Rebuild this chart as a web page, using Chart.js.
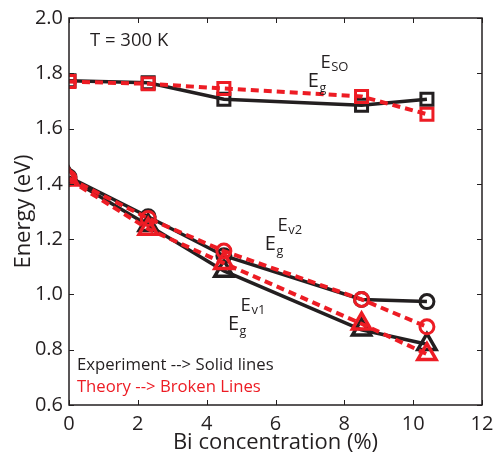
<!DOCTYPE html>
<html>
<head>
<meta charset="utf-8">
<script src="https://cdn.jsdelivr.net/npm/chart.js@4"></script>
<style>
html,body{margin:0;padding:0;background:#fff;}
#wrap{width:503px;height:463px;position:relative;}
</style>
</head>
<body>
<div id="wrap"><canvas id="c" width="503" height="463"></canvas></div>
<script>
// Data
const biConc = [0, 2.3, 4.5, 8.5, 10.4];
const expSO = [1.773, 1.766, 1.706, 1.684, 1.706];
const thSO  = [1.770, 1.762, 1.745, 1.716, 1.652];
const expV2 = [1.425, 1.281, 1.140, 0.982, 0.974];
const thV2  = [1.420, 1.275, 1.157, 0.982, 0.883];
const expV1 = [1.420, 1.250, 1.085, 0.872, 0.820];
const thV1  = [1.415, 1.237, 1.113, 0.894, 0.784];
const xTicks = [0, 2, 4, 6, 8, 10, 12];
const yTicks = [0.6, 0.8, 1.0, 1.2, 1.4, 1.6, 1.8, 2.0];

const BLACK = '#231f20';
const RED = '#ed1c24';
const FONT = "'Open Sans', 'Noto Sans', sans-serif";

function pts(ys){ return biConc.map((x,i)=>({x:x, y:ys[i]})); }

function ds(ys, color, dashed, style, radius, bw, order){
  return {
    data: pts(ys),
    borderColor: color,
    backgroundColor: 'rgba(0,0,0,0)',
    borderWidth: dashed ? 4 : 3.5,
    borderDash: dashed ? [8,5] : [],
    pointStyle: style,
    pointRadius: radius,
    pointBorderWidth: bw,
    pointBorderColor: color,
    pointBackgroundColor: 'rgba(0,0,0,0)',
    tension: 0,
    order: order
  };
}

const frame = {
  id: 'frame',
  afterDatasetsDraw(chart){
    const {ctx, chartArea:a, scales:{x, y}} = chart;
    ctx.save();
    ctx.strokeStyle = BLACK;
    ctx.lineWidth = 1.5;
    ctx.strokeRect(a.left, a.top, a.right - a.left, a.bottom - a.top);
    ctx.lineWidth = 1;
    const L = 5;
    ctx.beginPath();
    xTicks.forEach(v=>{
      const px = Math.round(x.getPixelForValue(v)) + 0.5;
      ctx.moveTo(px, a.bottom); ctx.lineTo(px, a.bottom - L);
      ctx.moveTo(px, a.top); ctx.lineTo(px, a.top + L);
    });
    yTicks.forEach(v=>{
      const py = Math.round(y.getPixelForValue(v)) + 0.5;
      ctx.moveTo(a.left, py); ctx.lineTo(a.left + L, py);
      ctx.moveTo(a.right, py); ctx.lineTo(a.right - L, py);
    });
    ctx.stroke();

    // Text annotations (anchored in data coordinates)
    ctx.textBaseline = 'alphabetic';
    ctx.textAlign = 'left';
    ctx.fillStyle = BLACK;
    ctx.font = '18.5px ' + FONT;
    ctx.fillText('T = 300 K', x.getPixelForValue(0.61), y.getPixelForValue(1.90));

    function eg(dx, dy, sub){
      const px = x.getPixelForValue(dx), py = y.getPixelForValue(dy);
      ctx.fillStyle = BLACK;
      ctx.font = '20px ' + FONT;
      ctx.fillText('E', px, py);
      const wE = ctx.measureText('E').width;
      ctx.font = '12.5px ' + FONT;
      ctx.fillText('g', px + wE + 0.5, py + 5);
      ctx.font = '18.5px ' + FONT;
      ctx.fillText('E', px + wE + 1.5, py - 19);
      const wE2 = ctx.measureText('E').width;
      ctx.font = '13px ' + FONT;
      ctx.fillText(sub, px + wE + 1.5 + wE2 + 0.5, py - 16);
    }
    eg(6.94, 1.752, 'SO');
    eg(5.69, 1.160, 'v2');
    eg(4.62, 0.873, 'v1');

    ctx.font = '16.7px ' + FONT;
    ctx.fillStyle = BLACK;
    ctx.fillText('Experiment --> Solid lines', x.getPixelForValue(0.23), y.getPixelForValue(0.727));
    ctx.fillStyle = RED;
    ctx.fillText('Theory --> Broken Lines', x.getPixelForValue(0.23), y.getPixelForValue(0.646));
    ctx.restore();
  }
};

new Chart(document.getElementById('c'), {
  type: 'line',
  data: {
    datasets: [
      ds(thSO, RED, true, 'rect', 8.5, 3, 0),
      ds(thV2, RED, true, 'circle', 7, 3, 0),
      ds(thV1, RED, true, 'triangle', 10.5, 3.5, 0),
      ds(expSO, BLACK, false, 'rect', 8.5, 3, 1),
      ds(expV2, BLACK, false, 'circle', 7, 3, 1),
      ds(expV1, BLACK, false, 'triangle', 10.5, 3.5, 1)
    ]
  },
  options: {
    responsive: false,
    animation: false,
    layout: { padding: { top: 10, right: 21, left: 0, bottom: 0 } },
    plugins: { legend: { display: false }, tooltip: { enabled: false } },
    scales: {
      x: {
        type: 'linear', min: 0, max: 12,
        afterBuildTicks: s => { s.ticks = xTicks.map(v=>({value:v})); },
        afterFit: s => { s.height = 58; },
        grid: { display: false, drawTicks: false },
        border: { display: false },
        ticks: { color: BLACK, padding: 7, font: { family: FONT, size: 20 }, maxRotation: 0 },
        title: { display: true, text: 'Bi concentration (%)', color: BLACK,
                 font: { family: FONT, size: 22, lineHeight: 1.2 }, padding: { top: 0, bottom: 7 } }
      },
      y: {
        type: 'linear', min: 0.6, max: 2.0,
        afterBuildTicks: s => { s.ticks = yTicks.map(v=>({value:v})); },
        afterFit: s => { s.width = 69; },
        grid: { display: false, drawTicks: false },
        border: { display: false },
        ticks: { color: BLACK, padding: 6, font: { family: FONT, size: 20 },
                 callback: v => v.toFixed(1) },
        title: { display: true, text: 'Energy (eV)', color: BLACK,
                 font: { family: FONT, size: 22, lineHeight: 1.2 }, padding: { top: 11, bottom: 0 } }
      }
    }
  },
  plugins: [frame]
});
</script>
</body>
</html>
